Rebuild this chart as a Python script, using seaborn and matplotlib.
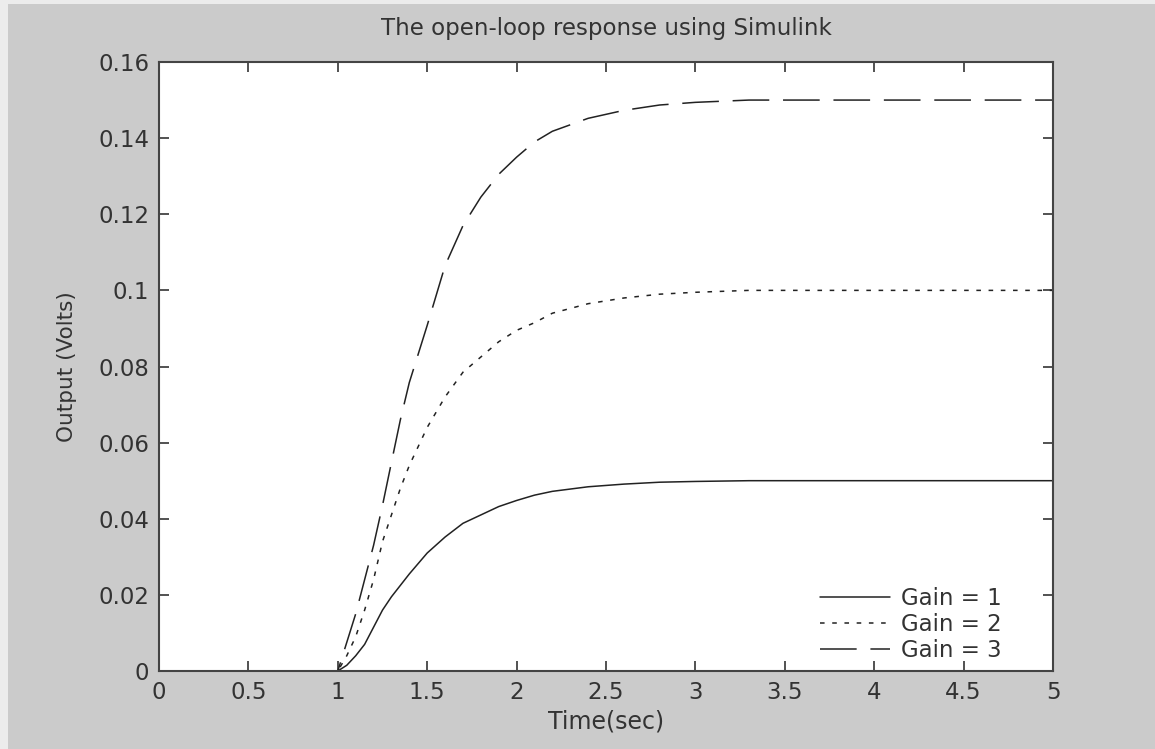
import matplotlib
matplotlib.use("Agg")
import matplotlib.pyplot as plt
from matplotlib.patches import Rectangle
import seaborn as sns
import pandas as pd

time = [0, 1.0, 1.05, 1.1, 1.15, 1.2, 1.25, 1.3, 1.35, 1.4, 1.5, 1.6, 1.7, 1.8, 1.9, 2.0, 2.1, 2.2, 2.4, 2.6, 2.8, 3.0, 3.3, 5.0]
gain1 = [0, 0, 0.0015, 0.004, 0.007, 0.0115, 0.016, 0.0195, 0.0225, 0.0255, 0.031, 0.0352, 0.0388, 0.041, 0.0432, 0.0448, 0.0462, 0.0472, 0.0484, 0.0491, 0.0496, 0.0498, 0.05, 0.05]
gain2 = [0, 0, 0.004, 0.009, 0.016, 0.024, 0.034, 0.041, 0.048, 0.054, 0.064, 0.072, 0.0785, 0.0825, 0.0865, 0.0895, 0.0915, 0.094, 0.0965, 0.098, 0.099, 0.0995, 0.1, 0.1]
gain3 = [0, 0, 0.0075, 0.015, 0.024, 0.033, 0.0435, 0.0548, 0.066, 0.0758, 0.0908, 0.1065, 0.117, 0.1245, 0.1305, 0.135, 0.139, 0.1418, 0.1452, 0.1473, 0.1487, 0.1494, 0.15, 0.15]
labels = ["Gain = 1", "Gain = 2", "Gain = 3"]
xticks = [0, 0.5, 1, 1.5, 2, 2.5, 3, 3.5, 4, 4.5, 5]
xticklabels = ["0", "0.5", "1", "1.5", "2", "2.5", "3", "3.5", "4", "4.5", "5"]
yticks = [0, 0.02, 0.04, 0.06, 0.08, 0.1, 0.12, 0.14, 0.16]
yticklabels = ["0", "0.02", "0.04", "0.06", "0.08", "0.1", "0.12", "0.14", "0.16"]

rows = []
for lab, ys in zip(labels, [gain1, gain2, gain3]):
    for t, v in zip(time, ys):
        rows.append({"t": t, "y": v, "Gain": lab})
df = pd.DataFrame(rows)

sns.set_style("white")
plt.rcParams["font.family"] = ["DejaVu Sans"]
txt = "#333333"

fig = plt.figure(figsize=(11.55, 7.49), dpi=100, facecolor="#cbcbcb")
fig.patches.append(Rectangle((0, 1 - 4 / 749), 1, 4 / 749, transform=fig.transFigure,
                             facecolor="#ececec", edgecolor="none", zorder=0))
fig.patches.append(Rectangle((0, 0), 8 / 1155, 1, transform=fig.transFigure,
                             facecolor="#ececec", edgecolor="none", zorder=0))
ax = fig.add_axes([159 / 1155, 1 - 671 / 749, 894 / 1155, 609 / 749])
ax.set_facecolor("white")

styles = {"Gain = 1": "-", "Gain = 2": (0, (3, 5)), "Gain = 3": (0, (24, 9))}
for lab in labels:
    sub = df[df["Gain"] == lab]
    sns.lineplot(data=sub, x="t", y="y", ax=ax, color="#222222", linewidth=1.1,
                 linestyle=styles[lab], label=lab, legend=False)

ax.set_xlim(0, 5)
ax.set_ylim(0, 0.16)
ax.set_xticks(xticks)
ax.set_xticklabels(xticklabels)
ax.set_yticks(yticks)
ax.set_yticklabels(yticklabels)
ax.tick_params(direction="in", length=7, width=1.2, colors="#333333", labelsize=16.5,
               top=True, right=True, bottom=True, left=True, pad=7)
for s in ax.spines.values():
    s.set_color("#444444")
    s.set_linewidth(1.5)
    s.set_visible(True)

ax.set_title("The open-loop response using Simulink", fontsize=16.5, color=txt,
             y=(671 - 37) / 609, va="center")
ax.set_xlabel("Time(sec)", fontsize=17, color=txt, va="center")
ax.xaxis.set_label_coords(0.5, (671 - 722) / 609)
ax.set_ylabel("Output (Volts)", fontsize=15.5, color=txt, va="center")
ax.yaxis.set_label_coords((67 - 159) / 894, 0.5)

handles = ax.get_lines()
leg = ax.legend(handles, labels, loc="lower right", bbox_to_anchor=((1002 - 159) / 894, 0.015),
                frameon=False, fontsize=16.5, handlelength=3.05, labelspacing=0.12,
                borderaxespad=0, borderpad=0, handletextpad=0.5)
for t in leg.get_texts():
    t.set_color(txt)

fig.savefig("out.png", dpi=100, facecolor=fig.get_facecolor())
